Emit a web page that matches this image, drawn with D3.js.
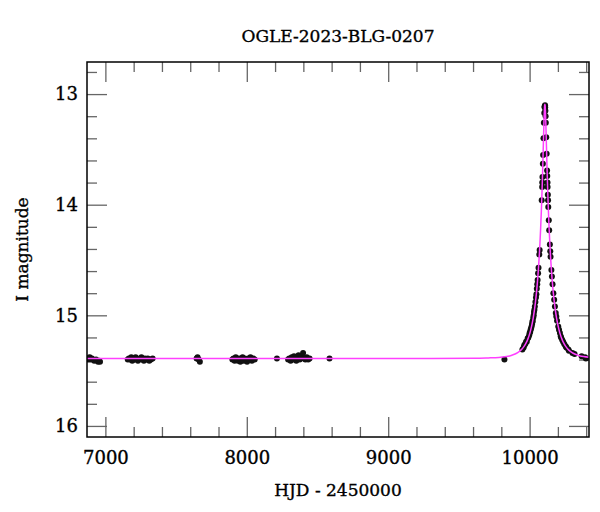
<!DOCTYPE html>
<html>
<head>
<meta charset="utf-8">
<script src="https://cdn.jsdelivr.net/npm/d3@7"></script>
<style>
  html, body { margin: 0; padding: 0; background: #fff; }
  svg { display: block; }
  text { font-family: "DejaVu Serif", "Liberation Serif", serif; fill: #000; stroke: #000; stroke-width: 0.35px; }
</style>
</head>
<body>
<svg id="chart" width="600" height="512"></svg>
<script>
// ---------- data ----------
const title = "OGLE-2023-BLG-0207";
const xLabel = "HJD - 2450000";
const yLabel = "I magnitude";

const xMajorTicks = [7000, 8000, 9000, 10000];
const xMinorTicks = [7200, 7400, 7600, 7800, 8200, 8400, 8600, 8800, 9200, 9400, 9600, 9800, 10200, 10400];
const yMajorTicks = [13, 14, 15, 16];
const yMinorTicks = [12.8, 13.2, 13.4, 13.6, 13.8, 14.2, 14.4, 14.6, 14.8, 15.2, 15.4, 15.6, 15.8];

// observations: HJD-2450000 and I magnitude
const obsTime = [
  6876, 6882, 6889, 6897, 6905, 6921, 6934, 6948, 6956, 6962,
  7158, 7166, 7175, 7183, 7190, 7199, 7206, 7214, 7222, 7230, 7238, 7246, 7255, 7263, 7272, 7280, 7290, 7300, 7310, 7322, 7334,
  7645, 7652, 7660, 7668,
  7898, 7906, 7914, 7922, 7930, 7938, 7946, 7954, 7962, 7970, 7978, 7986, 7994, 8002, 8010, 8018, 8026, 8036, 8046, 8056,
  8213,
  8292, 8300, 8310, 8318, 8326, 8334, 8342, 8350, 8358, 8366, 8374, 8382, 8390, 8398, 8406, 8414, 8424, 8434, 8444,
  8585, 9822,
  9949, 9958, 9962, 9969, 9975, 9980, 9986, 9991, 9997, 10000, 10004, 10007, 10010, 10014, 10017, 10020, 10022, 10026, 10029, 10031,
  10034, 10037, 10041, 10045, 10048, 10051, 10054, 10056.5, 10060, 10063, 10068.5, 10071, 10085.6, 10088.7, 10089.5, 10090.9,
  10093.6, 10095.4, 10098.2, 10100.8, 10103.7, 10105.8, 10106.5,
  10109.5, 10110.2, 10111.7, 10113.1, 10114.6, 10117.7, 10120.5, 10123.6, 10124.8, 10126.5, 10127.3, 10129, 10130.4, 10132,
  10135.6, 10138.5, 10143.4, 10146.1, 10148.2, 10154.1, 10157.7, 10162.2, 10168, 10173.7, 10179, 10185, 10188.8, 10194,
  10202.5, 10208, 10214.4, 10220, 10222.6, 10230, 10237, 10245, 10255, 10260, 10274, 10278, 10303, 10318, 10368, 10392, 10398
];
const obsMag = [
  15.39, 15.40, 15.38, 15.40, 15.39, 15.41, 15.40, 15.42, 15.41, 15.42,
  15.40, 15.39, 15.40, 15.38, 15.41, 15.39, 15.40, 15.38, 15.39, 15.41, 15.40, 15.39, 15.38, 15.40, 15.41, 15.39, 15.40, 15.39, 15.41, 15.40, 15.39,
  15.39, 15.38, 15.40, 15.42,
  15.40, 15.39, 15.41, 15.38, 15.40, 15.41, 15.39, 15.42, 15.40, 15.38, 15.41, 15.39, 15.40, 15.42, 15.39, 15.40, 15.38, 15.41, 15.39, 15.40,
  15.39,
  15.40, 15.39, 15.41, 15.38, 15.40, 15.37, 15.39, 15.41, 15.38, 15.36, 15.40, 15.39, 15.37, 15.34, 15.39, 15.40, 15.38, 15.40, 15.39,
  15.39, 15.40,
  15.31, 15.29, 15.27, 15.26, 15.24, 15.24, 15.21, 15.20, 15.18, 15.16, 15.15, 15.13, 15.12, 15.10, 15.08, 15.06, 15.05, 15.02, 15.00, 14.97,
  14.95, 14.92, 14.88, 14.84, 14.81, 14.76, 14.72, 14.68, 14.62, 14.57, 14.45, 14.41, 13.96, 13.84, 13.80, 13.75,
  13.63, 13.55, 13.40, 13.26, 13.17, 13.12, 13.11,
  13.10, 13.12, 13.15, 13.20, 13.26, 13.39, 13.54, 13.69, 13.74, 13.80, 13.84, 13.91, 13.96, 14.02,
  14.14, 14.23, 14.36, 14.42, 14.47, 14.59, 14.65, 14.72, 14.80, 14.86, 14.92, 14.98, 15.01, 15.05,
  15.10, 15.13, 15.16, 15.19, 15.20, 15.22, 15.24, 15.26, 15.28, 15.29, 15.31, 15.32, 15.34, 15.35, 15.37, 15.38, 15.39
];

// model light curve
const modelTime = [
  6870, 8500, 9308, 9608, 9708, 9758, 9808, 9858, 9883, 9908, 9928, 9948, 9963, 9978, 9988, 9998, 10008, 10018, 10026,
  10033, 10041, 10048, 10053, 10058, 10063, 10068, 10073, 10078, 10083, 10088, 10090.5, 10093, 10096, 10098, 10100,
  10102, 10103.5, 10105, 10106.5, 10108, 10109.5, 10111, 10112.5, 10114, 10116, 10118, 10120, 10123, 10125.5, 10128,
  10133, 10138, 10143, 10148, 10153, 10158, 10163, 10168, 10175, 10183, 10190, 10198, 10208, 10218, 10228, 10238,
  10253, 10268, 10288, 10308, 10333, 10358, 10420
];
const modelMag = [
  15.390, 15.390, 15.390, 15.388, 15.385, 15.383, 15.377, 15.367, 15.357, 15.343, 15.326, 15.302, 15.277, 15.243, 15.213, 15.177, 15.131, 15.075, 15.020,
  14.963, 14.884, 14.802, 14.734, 14.656, 14.568, 14.467, 14.350, 14.215, 14.057, 13.872, 13.768, 13.658, 13.515, 13.418, 13.322,
  13.233, 13.175, 13.130, 13.101, 13.091, 13.101, 13.130, 13.175, 13.233, 13.322, 13.418, 13.515, 13.658, 13.768, 13.872,
  14.057, 14.215, 14.350, 14.467, 14.568, 14.656, 14.734, 14.802, 14.884, 14.963, 15.020, 15.075, 15.131, 15.177, 15.213, 15.243,
  15.277, 15.302, 15.326, 15.343, 15.357, 15.367, 15.378
];

// ---------- chart ----------
const svg = d3.select("#chart");
const pL = 87, pR = 589, pT = 62, pB = 437;

const x = d3.scaleLinear().domain([6870, 10420]).range([pL, pR]);
const y = d3.scaleLinear().domain([12.71, 16.10]).range([pT, pB]);

svg.append("defs").append("clipPath").attr("id", "plotclip")
  .append("rect").attr("x", pL).attr("y", pT).attr("width", pR - pL).attr("height", pB - pT);

const tickColor = "#666";
const majorLen = 20, minorLen = 10;

function styleAxis(g) {
  g.select(".domain").remove();
  g.selectAll(".tick line").attr("stroke", tickColor).attr("stroke-width", 1.3);
}
function styleLabels(g) {
  g.selectAll("text").attr("font-size", 18).attr("font-family", "DejaVu Serif").attr("fill", "#000");
}

// bottom
svg.append("g").attr("transform", `translate(0,${pB})`)
  .call(d3.axisBottom(x).tickValues(xMajorTicks).tickSize(-majorLen).tickSizeOuter(0).tickPadding(14).tickFormat(d3.format("d")))
  .call(styleAxis).call(styleLabels);
svg.append("g").attr("transform", `translate(0,${pB})`)
  .call(d3.axisBottom(x).tickValues(xMinorTicks).tickSize(-minorLen).tickSizeOuter(0).tickFormat(""))
  .call(styleAxis);
// top
svg.append("g").attr("transform", `translate(0,${pT})`)
  .call(d3.axisTop(x).tickValues(xMajorTicks).tickSize(-majorLen).tickSizeOuter(0).tickFormat(""))
  .call(styleAxis);
svg.append("g").attr("transform", `translate(0,${pT})`)
  .call(d3.axisTop(x).tickValues(xMinorTicks).tickSize(-minorLen).tickSizeOuter(0).tickFormat(""))
  .call(styleAxis);
// left
svg.append("g").attr("transform", `translate(${pL},0)`)
  .call(d3.axisLeft(y).tickValues(yMajorTicks).tickSize(-majorLen).tickSizeOuter(0).tickPadding(9).tickFormat(d3.format("d")))
  .call(styleAxis).call(styleLabels);
svg.append("g").attr("transform", `translate(${pL},0)`)
  .call(d3.axisLeft(y).tickValues(yMinorTicks).tickSize(-minorLen).tickSizeOuter(0).tickFormat(""))
  .call(styleAxis);
// right
svg.append("g").attr("transform", `translate(${pR},0)`)
  .call(d3.axisRight(y).tickValues(yMajorTicks).tickSize(-majorLen).tickSizeOuter(0).tickFormat(""))
  .call(styleAxis);
svg.append("g").attr("transform", `translate(${pR},0)`)
  .call(d3.axisRight(y).tickValues(yMinorTicks).tickSize(-minorLen).tickSizeOuter(0).tickFormat(""))
  .call(styleAxis);

// points
const plot = svg.append("g").attr("clip-path", "url(#plotclip)");
plot.selectAll("circle.obs").data(obsTime.map((t, i) => [t, obsMag[i]]))
  .join("circle").attr("class", "obs")
  .attr("cx", d => x(d[0])).attr("cy", d => y(d[1])).attr("r", 3)
  .attr("fill", "#111");

// model curve
const line = d3.line().x(d => x(d[0])).y(d => y(d[1])).curve(d3.curveCatmullRom.alpha(0.5));
plot.append("path").datum(modelTime.map((t, i) => [t, modelMag[i]]))
  .attr("d", line).attr("fill", "none").attr("stroke", "#ff40ff").attr("stroke-width", 1.5);

// frame
svg.append("rect").attr("x", pL).attr("y", pT).attr("width", pR - pL).attr("height", pB - pT)
  .attr("fill", "none").attr("stroke", "#000").attr("stroke-width", 1.5);

// titles
svg.append("text").attr("x", (pL + pR) / 2).attr("y", 42).attr("text-anchor", "middle")
  .attr("font-size", 17).text(title);
svg.append("text").attr("x", (pL + pR) / 2).attr("y", 496).attr("text-anchor", "middle")
  .attr("font-size", 17).text(xLabel);
svg.append("text").attr("transform", `translate(28,${(pT + pB) / 2}) rotate(-90)`).attr("text-anchor", "middle")
  .attr("font-size", 17).text(yLabel);
</script>
</body>
</html>
